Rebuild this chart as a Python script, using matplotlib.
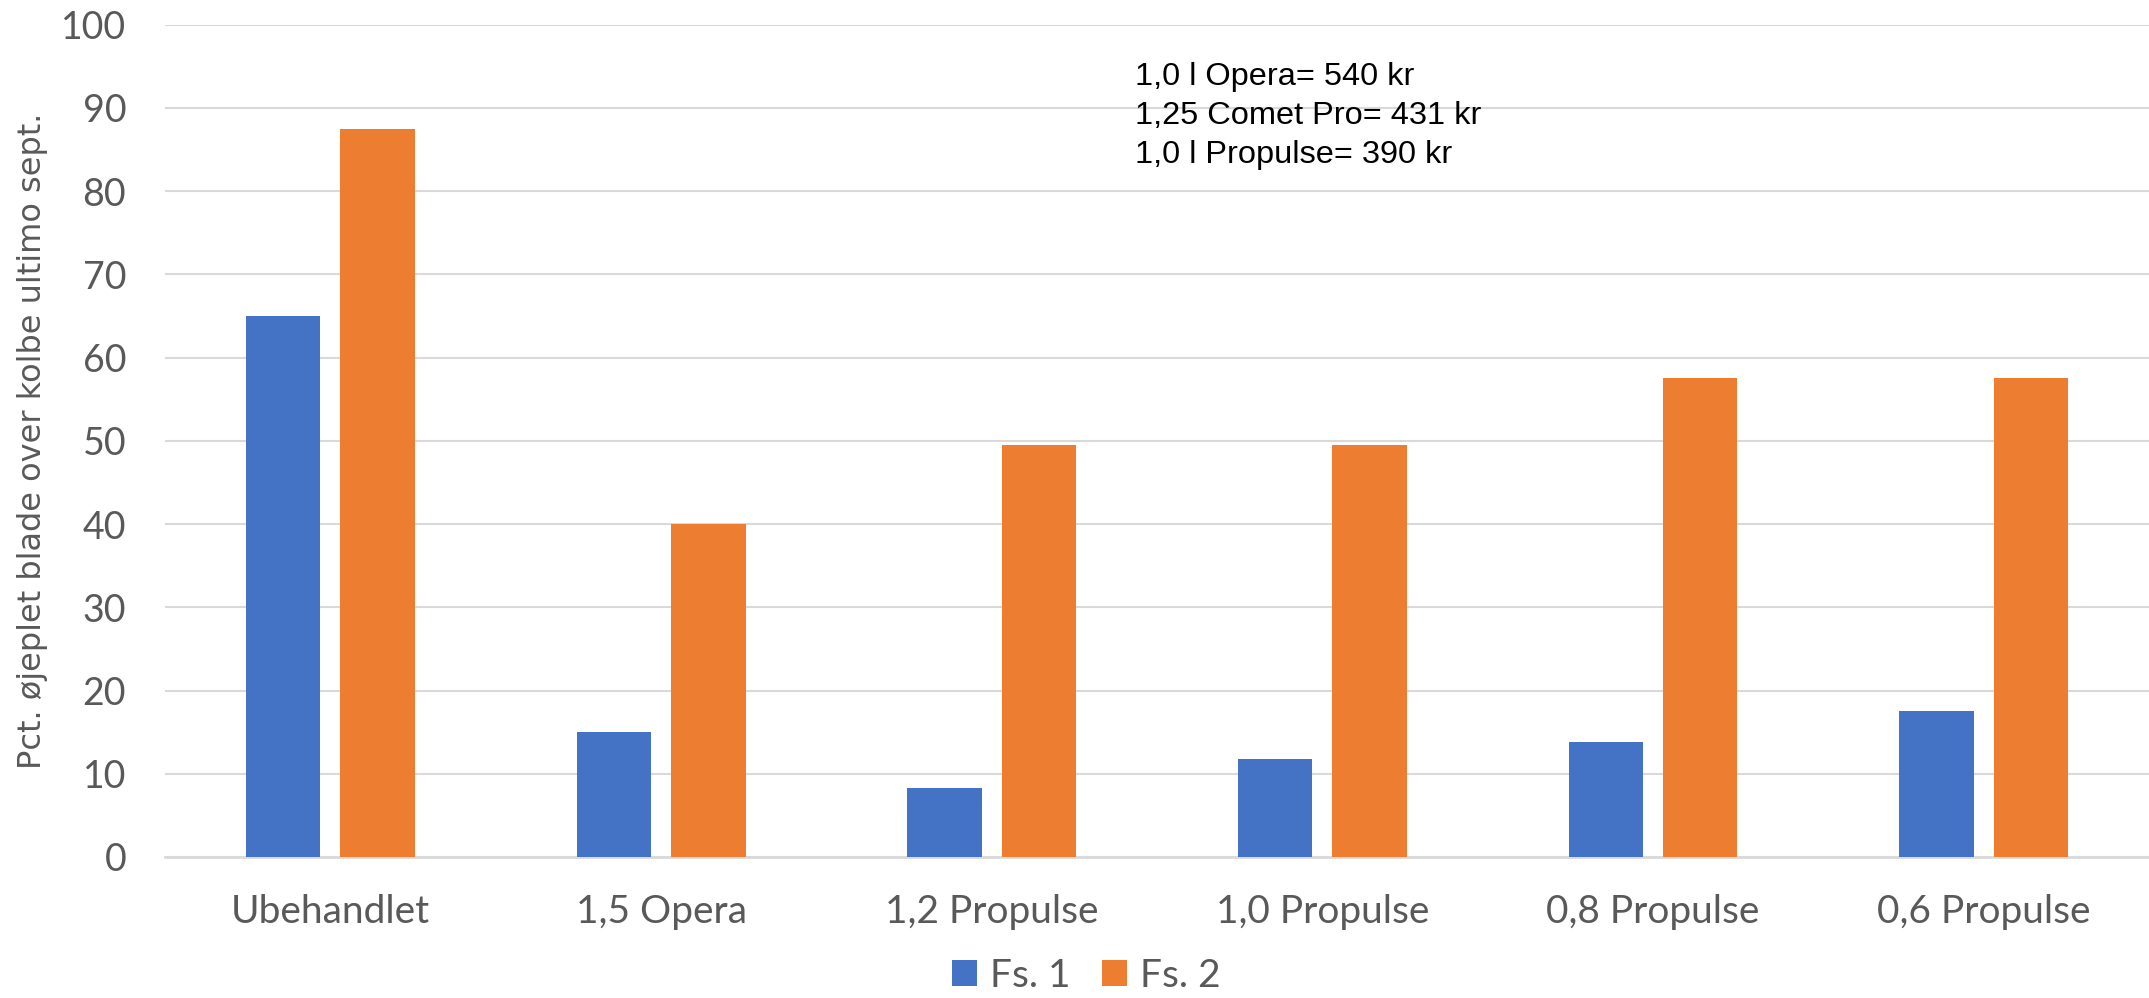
import numpy as np
import matplotlib.pyplot as plt

# data
categories = ['Ubehandlet', '1,5 Opera', '1,2 Propulse', '1,0 Propulse', '0,8 Propulse', '0,6 Propulse']
fs1 = [65, 15, 8.3, 11.8, 13.8, 17.5]
fs2 = [87.5, 40, 49.5, 49.5, 57.5, 57.5]
series_names = ['Fs. 1', 'Fs. 2']
price_lines = ['1,0 l Opera= 540 kr', '1,25 Comet Pro= 431 kr', '1,0 l Propulse= 390 kr']
yticks = np.arange(0, 101, 10)

blue = '#4472C4'
orange = '#ED7D31'
grey_txt = '#595959'

fig = plt.figure(figsize=(21.49, 9.98), dpi=100)
ax = fig.add_axes([0.0768, 0.1413, 0.9232, 0.834])

x = np.arange(len(categories))
w = 0.225
off = 0.143
ax.bar(x - off, fs1, w, color=blue, label=series_names[0], zorder=3)
ax.bar(x + off, fs2, w, color=orange, label=series_names[1], zorder=3)

ax.set_xlim(-0.5, len(categories) - 0.5)
ax.set_ylim(0, 100)
ax.set_yticks(yticks)
ax.set_xticks(x)
ax.set_xticklabels(categories)
ax.yaxis.grid(True, color='#D9D9D9', linewidth=1.5, zorder=0)
ax.set_axisbelow(True)
for s in ['top', 'right', 'left']:
    ax.spines[s].set_visible(False)
ax.spines['bottom'].set_color('#D9D9D9')
ax.spines['bottom'].set_linewidth(2)
ax.tick_params(axis='both', length=0, labelcolor=grey_txt)
ax.tick_params(axis='x', pad=27, labelsize=28)
ax.tick_params(axis='y', pad=28, labelsize=27)
for lab in ax.get_xticklabels() + ax.get_yticklabels():
    lab.set_family('Lato')

ax.set_ylabel('Pct. øjeplet blade over kolbe ultimo sept.', fontsize=23,
              color=grey_txt, family='DejaVu Sans')
ax.yaxis.set_label_coords(-0.059, 0.5)

ax.text(0.489, 0.955, '\n'.join(price_lines), transform=ax.transAxes,
        fontsize=23.4, family='Liberation Sans', va='top', ha='left',
        linespacing=1.38, color='black')

fig.legend(loc='center', bbox_to_anchor=(0.5055, 0.022), ncol=2, frameon=False,
           prop={'family': 'Lato', 'size': 28}, labelcolor=grey_txt,
           handlelength=0.65, handleheight=0.65, handletextpad=0.33, columnspacing=0.8,
           borderpad=0.1)

fig.savefig('out.png', dpi=100)
